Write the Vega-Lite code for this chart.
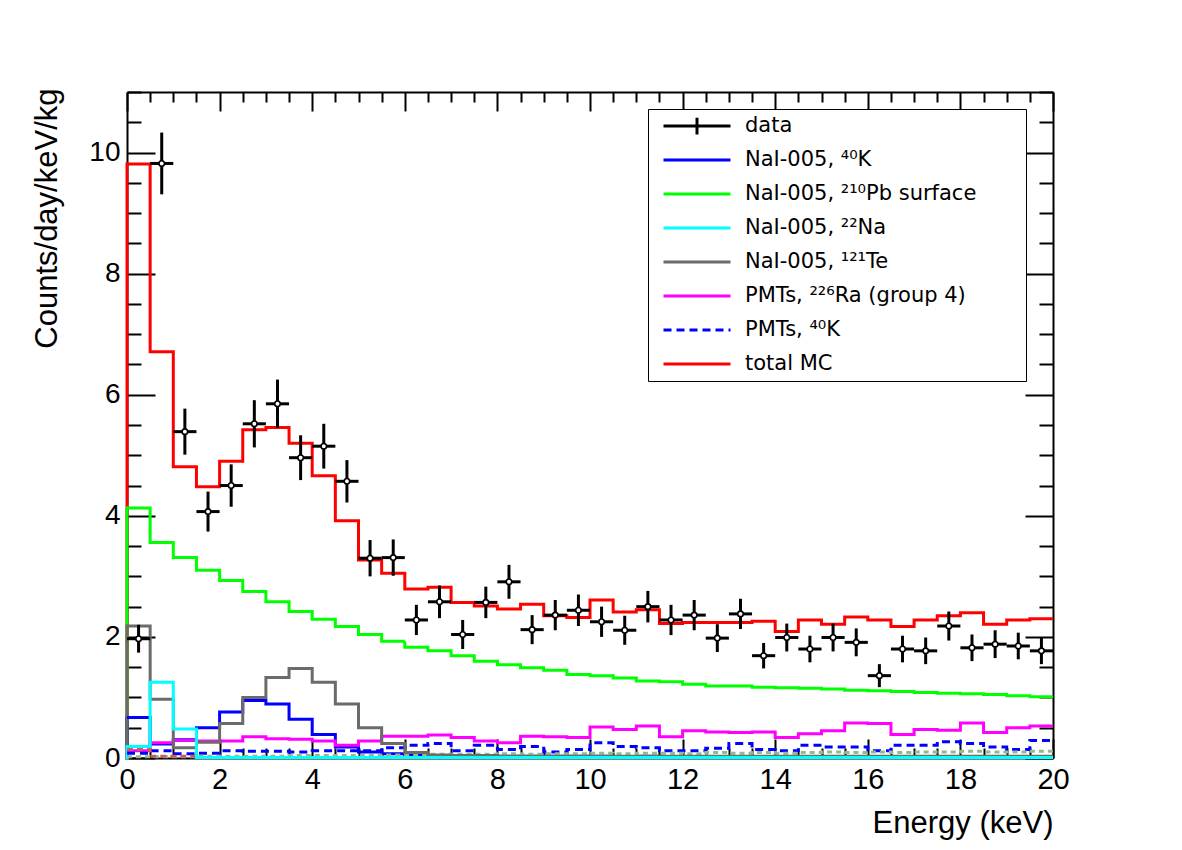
{
  "$schema": "https://vega.github.io/schema/vega-lite/v6.json",
  "width": 926,
  "height": 666,
  "autosize": {"type": "none"},
  "padding": {"left": 127, "top": 92, "right": 129, "bottom": 92},
  "background": "white",
  "config": {
    "view": {"stroke": null},
    "font": "Liberation Sans",
    "axis": {
      "grid": false,
      "domainColor": "black",
      "domainWidth": 2,
      "tickColor": "black",
      "tickWidth": 2,
      "labelFont": "Liberation Sans",
      "labelColor": "black",
      "labelFlush": false,
      "labelOverlap": false,
      "titleFont": "Liberation Sans",
      "titleFontSize": 31,
      "titleFontWeight": "normal",
      "titleColor": "black"
    }
  },
  "datasets": {
    "hist": [
      {"lo": 0, "hi": 0.5, "tot": 9.81, "pb": 4.13, "nak": 0.67, "na": 0.19, "te": 2.18, "ra": 0.12, "pmtk": 0.08, "o1": 0.14, "o2": 0.02},
      {"lo": 0.5, "hi": 1, "tot": 6.71, "pb": 3.56, "nak": 0.23, "na": 1.25, "te": 0.97, "ra": 0.25, "pmtk": 0.12, "o1": 0.03, "o2": 0.02},
      {"lo": 1, "hi": 1.5, "tot": 4.81, "pb": 3.31, "nak": 0.30, "na": 0.48, "te": 0.17, "ra": 0.29, "pmtk": 0.07, "o1": 0.03, "o2": 0.02},
      {"lo": 1.5, "hi": 2, "tot": 4.48, "pb": 3.10, "nak": 0.50, "na": 0.01, "te": 0.26, "ra": 0.28, "pmtk": 0.08, "o1": 0.01, "o2": 0.03},
      {"lo": 2, "hi": 2.5, "tot": 4.90, "pb": 2.93, "nak": 0.76, "na": 0.01, "te": 0.57, "ra": 0.28, "pmtk": 0.12, "o1": 0.01, "o2": 0.03},
      {"lo": 2.5, "hi": 3, "tot": 5.42, "pb": 2.75, "nak": 0.95, "na": 0.01, "te": 1.00, "ra": 0.35, "pmtk": 0.11, "o1": 0.01, "o2": 0.03},
      {"lo": 3, "hi": 3.5, "tot": 5.46, "pb": 2.58, "nak": 0.89, "na": 0.01, "te": 1.33, "ra": 0.32, "pmtk": 0.11, "o1": 0.01, "o2": 0.03},
      {"lo": 3.5, "hi": 4, "tot": 5.20, "pb": 2.42, "nak": 0.64, "na": 0.01, "te": 1.48, "ra": 0.31, "pmtk": 0.10, "o1": 0.01, "o2": 0.04},
      {"lo": 4, "hi": 4.5, "tot": 4.66, "pb": 2.29, "nak": 0.39, "na": 0.01, "te": 1.25, "ra": 0.28, "pmtk": 0.12, "o1": 0.01, "o2": 0.04},
      {"lo": 4.5, "hi": 5, "tot": 3.92, "pb": 2.17, "nak": 0.18, "na": 0.01, "te": 0.89, "ra": 0.21, "pmtk": 0.12, "o1": 0.01, "o2": 0.04},
      {"lo": 5, "hi": 5.5, "tot": 3.27, "pb": 2.04, "nak": 0.10, "na": 0.01, "te": 0.50, "ra": 0.28, "pmtk": 0.12, "o1": 0.01, "o2": 0.04},
      {"lo": 5.5, "hi": 6, "tot": 3.05, "pb": 1.93, "nak": 0.07, "na": 0.01, "te": 0.24, "ra": 0.36, "pmtk": 0.17, "o1": 0.01, "o2": 0.05},
      {"lo": 6, "hi": 6.5, "tot": 2.79, "pb": 1.83, "nak": 0.05, "na": 0.01, "te": 0.09, "ra": 0.36, "pmtk": 0.21, "o1": 0.01, "o2": 0.05},
      {"lo": 6.5, "hi": 7, "tot": 2.82, "pb": 1.77, "nak": 0.04, "na": 0.01, "te": 0.05, "ra": 0.38, "pmtk": 0.24, "o1": 0.01, "o2": 0.06},
      {"lo": 7, "hi": 7.5, "tot": 2.57, "pb": 1.69, "nak": 0.04, "na": 0.01, "te": 0.04, "ra": 0.34, "pmtk": 0.12, "o1": 0.01, "o2": 0.06},
      {"lo": 7.5, "hi": 8, "tot": 2.51, "pb": 1.60, "nak": 0.03, "na": 0.01, "te": 0.04, "ra": 0.28, "pmtk": 0.21, "o1": 0.01, "o2": 0.06},
      {"lo": 8, "hi": 8.5, "tot": 2.46, "pb": 1.54, "nak": 0.03, "na": 0.01, "te": 0.03, "ra": 0.25, "pmtk": 0.14, "o1": 0.01, "o2": 0.07},
      {"lo": 8.5, "hi": 9, "tot": 2.54, "pb": 1.49, "nak": 0.03, "na": 0.01, "te": 0.03, "ra": 0.36, "pmtk": 0.19, "o1": 0.01, "o2": 0.06},
      {"lo": 9, "hi": 9.5, "tot": 2.35, "pb": 1.45, "nak": 0.03, "na": 0.01, "te": 0.03, "ra": 0.35, "pmtk": 0.10, "o1": 0.01, "o2": 0.07},
      {"lo": 9.5, "hi": 10, "tot": 2.32, "pb": 1.38, "nak": 0.03, "na": 0.01, "te": 0.03, "ra": 0.34, "pmtk": 0.14, "o1": 0.01, "o2": 0.07},
      {"lo": 10, "hi": 10.5, "tot": 2.61, "pb": 1.36, "nak": 0.03, "na": 0.01, "te": 0.03, "ra": 0.51, "pmtk": 0.25, "o1": 0.01, "o2": 0.08},
      {"lo": 10.5, "hi": 11, "tot": 2.41, "pb": 1.32, "nak": 0.02, "na": 0.01, "te": 0.03, "ra": 0.47, "pmtk": 0.19, "o1": 0.01, "o2": 0.07},
      {"lo": 11, "hi": 11.5, "tot": 2.45, "pb": 1.27, "nak": 0.03, "na": 0.01, "te": 0.03, "ra": 0.53, "pmtk": 0.17, "o1": 0.01, "o2": 0.08},
      {"lo": 11.5, "hi": 12, "tot": 2.22, "pb": 1.26, "nak": 0.02, "na": 0.01, "te": 0.03, "ra": 0.35, "pmtk": 0.12, "o1": 0.01, "o2": 0.08},
      {"lo": 12, "hi": 12.5, "tot": 2.24, "pb": 1.22, "nak": 0.02, "na": 0.01, "te": 0.03, "ra": 0.45, "pmtk": 0.12, "o1": 0.01, "o2": 0.07},
      {"lo": 12.5, "hi": 13, "tot": 2.24, "pb": 1.19, "nak": 0.02, "na": 0.01, "te": 0.03, "ra": 0.43, "pmtk": 0.16, "o1": 0.01, "o2": 0.09},
      {"lo": 13, "hi": 13.5, "tot": 2.24, "pb": 1.19, "nak": 0.02, "na": 0.01, "te": 0.03, "ra": 0.42, "pmtk": 0.24, "o1": 0.01, "o2": 0.08},
      {"lo": 13.5, "hi": 14, "tot": 2.26, "pb": 1.17, "nak": 0.02, "na": 0.01, "te": 0.03, "ra": 0.43, "pmtk": 0.14, "o1": 0.01, "o2": 0.09},
      {"lo": 14, "hi": 14.5, "tot": 2.09, "pb": 1.16, "nak": 0.02, "na": 0.01, "te": 0.03, "ra": 0.34, "pmtk": 0.12, "o1": 0.01, "o2": 0.08},
      {"lo": 14.5, "hi": 15, "tot": 2.28, "pb": 1.15, "nak": 0.02, "na": 0.01, "te": 0.03, "ra": 0.40, "pmtk": 0.21, "o1": 0.01, "o2": 0.09},
      {"lo": 15, "hi": 15.5, "tot": 2.21, "pb": 1.14, "nak": 0.02, "na": 0.01, "te": 0.03, "ra": 0.45, "pmtk": 0.18, "o1": 0.01, "o2": 0.10},
      {"lo": 15.5, "hi": 16, "tot": 2.33, "pb": 1.12, "nak": 0.02, "na": 0.01, "te": 0.03, "ra": 0.58, "pmtk": 0.18, "o1": 0.01, "o2": 0.09},
      {"lo": 16, "hi": 16.5, "tot": 2.28, "pb": 1.11, "nak": 0.02, "na": 0.01, "te": 0.03, "ra": 0.57, "pmtk": 0.12, "o1": 0.01, "o2": 0.10},
      {"lo": 16.5, "hi": 17, "tot": 2.17, "pb": 1.10, "nak": 0.02, "na": 0.01, "te": 0.03, "ra": 0.39, "pmtk": 0.21, "o1": 0.01, "o2": 0.09},
      {"lo": 17, "hi": 17.5, "tot": 2.28, "pb": 1.08, "nak": 0.02, "na": 0.01, "te": 0.03, "ra": 0.47, "pmtk": 0.21, "o1": 0.01, "o2": 0.10},
      {"lo": 17.5, "hi": 18, "tot": 2.35, "pb": 1.07, "nak": 0.02, "na": 0.01, "te": 0.03, "ra": 0.46, "pmtk": 0.27, "o1": 0.01, "o2": 0.10},
      {"lo": 18, "hi": 18.5, "tot": 2.40, "pb": 1.06, "nak": 0.02, "na": 0.01, "te": 0.03, "ra": 0.58, "pmtk": 0.24, "o1": 0.01, "o2": 0.11},
      {"lo": 18.5, "hi": 19, "tot": 2.21, "pb": 1.05, "nak": 0.02, "na": 0.01, "te": 0.03, "ra": 0.42, "pmtk": 0.18, "o1": 0.01, "o2": 0.10},
      {"lo": 19, "hi": 19.5, "tot": 2.28, "pb": 1.03, "nak": 0.02, "na": 0.01, "te": 0.03, "ra": 0.50, "pmtk": 0.14, "o1": 0.01, "o2": 0.10},
      {"lo": 19.5, "hi": 20, "tot": 2.30, "pb": 1.01, "nak": 0.02, "na": 0.01, "te": 0.03, "ra": 0.53, "pmtk": 0.29, "o1": 0.01, "o2": 0.11}
    ],
    "points": [
      {"lo": 0, "e": 0.25, "hi": 0.5, "v": 1.97, "err": 0.23},
      {"lo": 0.5, "e": 0.75, "hi": 1, "v": 9.82, "err": 0.51},
      {"lo": 1, "e": 1.25, "hi": 1.5, "v": 5.39, "err": 0.38},
      {"lo": 1.5, "e": 1.75, "hi": 2, "v": 4.07, "err": 0.33},
      {"lo": 2, "e": 2.25, "hi": 2.5, "v": 4.50, "err": 0.35},
      {"lo": 2.5, "e": 2.75, "hi": 3, "v": 5.52, "err": 0.39},
      {"lo": 3, "e": 3.25, "hi": 3.5, "v": 5.85, "err": 0.40},
      {"lo": 3.5, "e": 3.75, "hi": 4, "v": 4.96, "err": 0.37},
      {"lo": 4, "e": 4.25, "hi": 4.5, "v": 5.15, "err": 0.37},
      {"lo": 4.5, "e": 4.75, "hi": 5, "v": 4.57, "err": 0.35},
      {"lo": 5, "e": 5.25, "hi": 5.5, "v": 3.30, "err": 0.30},
      {"lo": 5.5, "e": 5.75, "hi": 6, "v": 3.31, "err": 0.30},
      {"lo": 6, "e": 6.25, "hi": 6.5, "v": 2.28, "err": 0.25},
      {"lo": 6.5, "e": 6.75, "hi": 7, "v": 2.58, "err": 0.27},
      {"lo": 7, "e": 7.25, "hi": 7.5, "v": 2.04, "err": 0.24},
      {"lo": 7.5, "e": 7.75, "hi": 8, "v": 2.57, "err": 0.26},
      {"lo": 8, "e": 8.25, "hi": 8.5, "v": 2.91, "err": 0.28},
      {"lo": 8.5, "e": 8.75, "hi": 9, "v": 2.12, "err": 0.24},
      {"lo": 9, "e": 9.25, "hi": 9.5, "v": 2.36, "err": 0.25},
      {"lo": 9.5, "e": 9.75, "hi": 10, "v": 2.44, "err": 0.26},
      {"lo": 10, "e": 10.25, "hi": 10.5, "v": 2.25, "err": 0.25},
      {"lo": 10.5, "e": 10.75, "hi": 11, "v": 2.11, "err": 0.24},
      {"lo": 11, "e": 11.25, "hi": 11.5, "v": 2.50, "err": 0.26},
      {"lo": 11.5, "e": 11.75, "hi": 12, "v": 2.28, "err": 0.25},
      {"lo": 12, "e": 12.25, "hi": 12.5, "v": 2.36, "err": 0.25},
      {"lo": 12.5, "e": 12.75, "hi": 13, "v": 1.98, "err": 0.23},
      {"lo": 13, "e": 13.25, "hi": 13.5, "v": 2.38, "err": 0.25},
      {"lo": 13.5, "e": 13.75, "hi": 14, "v": 1.69, "err": 0.21},
      {"lo": 14, "e": 14.25, "hi": 14.5, "v": 1.99, "err": 0.23},
      {"lo": 14.5, "e": 14.75, "hi": 15, "v": 1.80, "err": 0.22},
      {"lo": 15, "e": 15.25, "hi": 15.5, "v": 1.99, "err": 0.23},
      {"lo": 15.5, "e": 15.75, "hi": 16, "v": 1.91, "err": 0.23},
      {"lo": 16, "e": 16.25, "hi": 16.5, "v": 1.36, "err": 0.19},
      {"lo": 16.5, "e": 16.75, "hi": 17, "v": 1.80, "err": 0.22},
      {"lo": 17, "e": 17.25, "hi": 17.5, "v": 1.77, "err": 0.22},
      {"lo": 17.5, "e": 17.75, "hi": 18, "v": 2.18, "err": 0.24},
      {"lo": 18, "e": 18.25, "hi": 18.5, "v": 1.82, "err": 0.22},
      {"lo": 18.5, "e": 18.75, "hi": 19, "v": 1.88, "err": 0.23},
      {"lo": 19, "e": 19.25, "hi": 19.5, "v": 1.85, "err": 0.22},
      {"lo": 19.5, "e": 19.75, "hi": 20, "v": 1.77, "err": 0.22}
    ]
  },
  "layer": [
    {
      "data": {"name": "hist"},
      "transform": [
        {"fold": ["tot", "pb", "nak", "ra", "pmtk", "o2", "o1", "te", "na"], "as": ["s", "v"]},
        {"filter": "datum.lo === 0"}
      ],
      "mark": {"type": "rule", "strokeWidth": 3, "strokeCap": "square"},
      "encoding": {
        "x": {"field": "lo", "type": "quantitative", "scale": {"domain": [0, 20]}, "axis": null},
        "y": {"field": "v", "type": "quantitative", "scale": {"domain": [0, 11]}, "axis": null},
        "y2": {"datum": 0},
        "color": {"field": "s", "type": "nominal",
          "scale": {"domain": ["data", "nak", "pb", "na", "te", "ra", "pmtk", "tot", "o1", "o2"],
                    "range": ["#000000", "#0000ff", "#00ff00", "#00ffff", "#6b6b6b", "#ff00ff", "#0000ff", "#ff0000", "#cd5c5c", "#8fbc8f"]}}
      }
    },
    {
      "data": {"name": "hist"},
      "transform": [
        {"fold": ["tot", "pb", "nak", "ra", "pmtk", "o2", "o1", "te", "na"], "as": ["s", "v"]},
        {"fold": ["lo", "hi"], "as": ["edge", "x"]}
      ],
      "mark": {"type": "line", "strokeWidth": 3, "strokeJoin": "miter"},
      "encoding": {
        "x": {"field": "x", "type": "quantitative", "scale": {"domain": [0, 20]}, "axis": null},
        "y": {"field": "v", "type": "quantitative", "scale": {"domain": [0, 11]}, "axis": null},
        "order": [{"field": "lo", "type": "quantitative"}, {"field": "x", "type": "quantitative"}],
        "color": {"field": "s", "type": "nominal",
          "scale": {"domain": ["data", "nak", "pb", "na", "te", "ra", "pmtk", "tot", "o1", "o2"],
                    "range": ["#000000", "#0000ff", "#00ff00", "#00ffff", "#6b6b6b", "#ff00ff", "#0000ff", "#ff0000", "#cd5c5c", "#8fbc8f"]},
          "legend": {
            "orient": "none", "legendX": 521, "legendY": 17,
            "title": "\u2800\u2800\u2800", "titleOrient": "right", "titleFont": "DejaVu Sans", "titleFontSize": 21, "titlePadding": 0,
            "values": ["data", "nak", "pb", "na", "te", "ra", "pmtk", "tot"],
            "labelExpr": "datum.label === 'nak' ? 'NaI-005, ⁴⁰K' : datum.label === 'pb' ? 'NaI-005, ²¹⁰Pb surface' : datum.label === 'na' ? 'NaI-005, ²²Na' : datum.label === 'te' ? 'NaI-005, ¹²¹Te' : datum.label === 'ra' ? 'PMTs, ²²⁶Ra (group 4)' : datum.label === 'pmtk' ? 'PMTs, ⁴⁰K' : datum.label === 'tot' ? 'total MC' : 'data'",
            "symbolType": "stroke", "symbolSize": 4489, "symbolStrokeWidth": 3, "symbolOffset": 14,
            "labelFont": "DejaVu Sans", "labelFontSize": 21, "labelColor": "black", "labelOffset": 13, "labelLimit": 500,
            "clipHeight": 34, "rowPadding": 0, "padding": 0,
            "strokeColor": "black", "fillColor": "white", "cornerRadius": 0,
            "encode": {"symbols": {"update": {"shape": {"signal": "datum.value === 'data' ? 'M-1,0H1M0,-0.25V0.25' : 'stroke'"}}}}
          }},
        "strokeDash": {"field": "s", "type": "nominal",
          "scale": {"domain": ["data", "nak", "pb", "na", "te", "ra", "pmtk", "tot", "o1", "o2"],
                    "range": [[1, 0], [1, 0], [1, 0], [1, 0], [1, 0], [1, 0], [8, 5], [1, 0], [6, 4], [5, 4]]},
          "legend": {
            "orient": "none", "legendX": 521, "legendY": 17,
            "title": "\u2800\u2800\u2800", "titleOrient": "right", "titleFont": "DejaVu Sans", "titleFontSize": 21, "titlePadding": 0,
            "values": ["data", "nak", "pb", "na", "te", "ra", "pmtk", "tot"],
            "labelExpr": "datum.label === 'nak' ? 'NaI-005, ⁴⁰K' : datum.label === 'pb' ? 'NaI-005, ²¹⁰Pb surface' : datum.label === 'na' ? 'NaI-005, ²²Na' : datum.label === 'te' ? 'NaI-005, ¹²¹Te' : datum.label === 'ra' ? 'PMTs, ²²⁶Ra (group 4)' : datum.label === 'pmtk' ? 'PMTs, ⁴⁰K' : datum.label === 'tot' ? 'total MC' : 'data'",
            "symbolType": "stroke", "symbolSize": 4489, "symbolStrokeWidth": 3, "symbolOffset": 14,
            "labelFont": "DejaVu Sans", "labelFontSize": 21, "labelColor": "black", "labelOffset": 13, "labelLimit": 500,
            "clipHeight": 34, "rowPadding": 0, "padding": 0,
            "strokeColor": "black", "fillColor": "white", "cornerRadius": 0,
            "encode": {"symbols": {"update": {"shape": {"signal": "datum.value === 'data' ? 'M-1,0H1M0,-0.25V0.25' : 'stroke'"}}}}
          }}
      }
    },
    {
      "data": {"name": "points"},
      "mark": {"type": "rule", "strokeWidth": 3},
      "encoding": {
        "x": {"field": "lo", "type": "quantitative", "scale": {"domain": [0, 20]},
          "axis": {
            "orient": "bottom",
            "values": [0, 0.5, 1, 1.5, 2, 2.5, 3, 3.5, 4, 4.5, 5, 5.5, 6, 6.5, 7, 7.5, 8, 8.5, 9, 9.5, 10, 10.5, 11, 11.5, 12, 12.5, 13, 13.5, 14, 14.5, 15, 15.5, 16, 16.5, 17, 17.5, 18, 18.5, 19, 19.5, 20],
            "tickSize": {"condition": {"test": "datum.value % 2 === 0", "value": -19}, "value": -10},
            "labelExpr": "datum.value % 2 === 0 ? toString(datum.value) : ''",
            "labelFont": "Liberation Sans", "labelFontSize": 29, "labelColor": "black",
            "labelPadding": 49,
            "labelBaseline": "alphabetic",
            "title": "Energy (keV)",
            "titleFont": "Liberation Sans", "titleFontSize": 31,
            "titleX": 926, "titleY": 74, "titleAlign": "right", "titleBaseline": "alphabetic"
          }},
        "x2": {"field": "hi"},
        "y": {"field": "v", "type": "quantitative", "scale": {"domain": [0, 11]},
          "axis": {
            "orient": "left",
            "values": [0, 0.5, 1, 1.5, 2, 2.5, 3, 3.5, 4, 4.5, 5, 5.5, 6, 6.5, 7, 7.5, 8, 8.5, 9, 9.5, 10, 10.5, 11],
            "tickSize": {"condition": {"test": "datum.value % 2 === 0", "value": -28}, "value": -14},
            "labelExpr": "datum.value % 2 === 0 ? toString(datum.value) : ''",
            "labelFont": "Liberation Sans", "labelFontSize": 28, "labelColor": "black",
            "labelPadding": 35,
            "title": "Counts/day/keV/kg",
            "titleFont": "Liberation Sans", "titleFontSize": 31,
            "titleX": -71, "titleY": -4, "titleAlign": "right", "titleAngle": 270, "titleBaseline": "alphabetic"
          }},
        "color": {"datum": "data", "type": "nominal",
          "scale": {"domain": ["data", "nak", "pb", "na", "te", "ra", "pmtk", "tot", "o1", "o2"],
                    "range": ["#000000", "#0000ff", "#00ff00", "#00ffff", "#6b6b6b", "#ff00ff", "#0000ff", "#ff0000", "#cd5c5c", "#8fbc8f"]}}
      }
    },
    {
      "data": {"name": "points"},
      "mark": {"type": "errorbar", "thickness": 3},
      "encoding": {
        "x": {"field": "e", "type": "quantitative", "scale": {"domain": [0, 20]}, "axis": null},
        "y": {"field": "v", "type": "quantitative", "scale": {"domain": [0, 11]}, "axis": null},
        "yError": {"field": "err"},
        "color": {"value": "#000000"}
      }
    },
    {
      "data": {"name": "points"},
      "mark": {"type": "point", "shape": "circle", "filled": true, "fill": "white", "stroke": "black", "strokeWidth": 1.6, "size": 30, "opacity": 1},
      "encoding": {
        "x": {"field": "e", "type": "quantitative", "scale": {"domain": [0, 20]},
          "axis": {
            "orient": "top",
            "values": [0, 0.5, 1, 1.5, 2, 2.5, 3, 3.5, 4, 4.5, 5, 5.5, 6, 6.5, 7, 7.5, 8, 8.5, 9, 9.5, 10, 10.5, 11, 11.5, 12, 12.5, 13, 13.5, 14, 14.5, 15, 15.5, 16, 16.5, 17, 17.5, 18, 18.5, 19, 19.5, 20],
            "tickSize": {"condition": {"test": "datum.value % 2 === 0", "value": -19}, "value": -10},
            "labels": false,
            "title": null
          }},
        "y": {"field": "v", "type": "quantitative", "scale": {"domain": [0, 11]},
          "axis": {
            "orient": "right",
            "values": [0, 0.5, 1, 1.5, 2, 2.5, 3, 3.5, 4, 4.5, 5, 5.5, 6, 6.5, 7, 7.5, 8, 8.5, 9, 9.5, 10, 10.5, 11],
            "tickSize": {"condition": {"test": "datum.value % 2 === 0", "value": -28}, "value": -14},
            "labels": false,
            "title": null
          }}
      }
    }
  ],
  "resolve": {"axis": {"x": "independent", "y": "independent"}}
}
